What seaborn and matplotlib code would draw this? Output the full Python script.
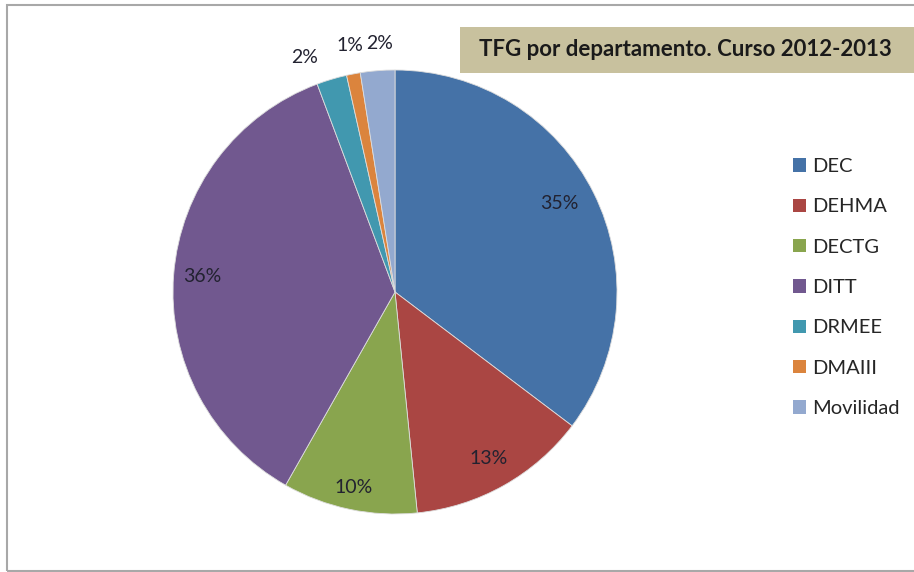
import matplotlib
matplotlib.use("Agg")
import matplotlib.pyplot as plt
import matplotlib.patches as mpatches
import numpy as np
import seaborn as sns

sns.set_theme(style="white")
plt.rcParams['font.family'] = ['Lato', 'DejaVu Sans']

categories = ["DEC", "DEHMA", "DECTG", "DITT", "DRMEE", "DMAIII", "Movilidad"]
values = [35.3, 13.1, 9.8, 36.1, 2.2, 1.0, 2.5]
pct_labels = ["35%", "13%", "10%", "36%", "2%", "1%", "2%"]
colors = ["#4572A7", "#AA4643", "#89A54E", "#71588F", "#4198AF", "#DB843D", "#93A9CF"]
title = "TFG por departamento. Curso 2012-2013"

W, H = 914, 572
fig = plt.figure(figsize=(W / 100, H / 100), dpi=100)
fig.patch.set_facecolor("white")

# outer border
fig.add_artist(mpatches.Rectangle((7 / W, 1 - 571 / H), (W + 10) / W, (571 - 5) / H,
                                  transform=fig.transFigure, facecolor="none",
                                  edgecolor="#A8A8A8", linewidth=1.5, clip_on=False))

cx, cy, r = 395, 292, 222
ax = fig.add_axes([(cx - r) / W, (H - cy - r) / H, 2 * r / W, 2 * r / H])
wedges, _ = ax.pie(values, colors=colors, startangle=90, counterclock=False,
                   radius=1.0, wedgeprops=dict(linewidth=0.6, edgecolor="#dddddd"))
ax.set_xlim(-1, 1)
ax.set_ylim(-1, 1)
ax.set_aspect("equal")
ax.axis("off")

label_dist = [0.84, 0.86, 0.90, 0.87, 1.13, 1.13, 1.12]
label_shift = [2.0, 0, 0, 0, 4.5, -0.5, -1.0]  # degrees
for w, lab, d, s in zip(wedges, pct_labels, label_dist, label_shift):
    ang = np.deg2rad((w.theta1 + w.theta2) / 2 + s)
    ax.text(d * np.cos(ang), d * np.sin(ang), lab, ha="center", va="center",
            fontsize=14, color="#222230", clip_on=False)

# title box
fig.add_artist(mpatches.Rectangle((460 / W, 1 - 73 / H), (W - 460 + 5) / W, 46 / H,
                                  transform=fig.transFigure, facecolor="#C8C19E",
                                  edgecolor="none", clip_on=False))
fig.text(685 / W, 1 - 50 / H, title, ha="center", va="center", fontsize=16,
         fontweight="bold", color="#1a1a1a")

handles = [mpatches.Patch(facecolor=c, edgecolor="none") for c in colors]
fig.legend(handles, categories, loc="upper left", bbox_to_anchor=(793 / W, 1 - 158 / H),
           frameon=False, fontsize=14.5, handlelength=0.65, handleheight=0.65,
           handletextpad=0.3, labelspacing=1.16, borderpad=0, borderaxespad=0)

fig.savefig("out.png", dpi=100, facecolor="white")
